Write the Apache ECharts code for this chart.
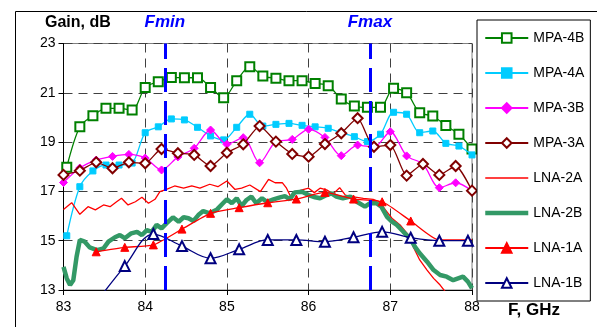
<!DOCTYPE html>
<html><head><meta charset="utf-8">
<script src="https://cdn.jsdelivr.net/npm/echarts@6/dist/echarts.min.js"></script>
<style>html,body{margin:0;padding:0;background:#fff}#c{width:597px;height:327px}</style>
</head><body><div id="c"></div>
<script>
// ---- data ----
const seriesNames = ['MPA-4B','MPA-4A','MPA-3B','MPA-3A','LNA-2A','LNA-2B','LNA-1A','LNA-1B'];
const xTicks = [83,84,85,86,87,88];
const yTicks = [13,15,17,19,21,23];
const markerFreqs = [84.24, 86.75];
const markerLabels = ['Fmin','Fmax'];

const freqMPA4 = [83.04,83.2,83.36,83.52,83.68,83.84,84.0,84.16,84.32,84.48,84.64,84.8,84.96,85.12,85.28,85.44,85.6,85.76,85.92,86.08,86.24,86.4,86.56,86.72,86.88,87.04,87.2,87.36,87.52,87.68,87.84,88.0];
const mpa4B = [17.98,19.62,20.07,20.37,20.37,20.30,21.22,21.45,21.62,21.61,21.61,21.22,20.80,21.49,22.06,21.68,21.59,21.49,21.49,21.38,21.29,20.75,20.46,20.41,20.41,21.18,21.0,20.19,20.06,19.67,19.32,18.72];
const mpa4A = [15.20,17.19,17.83,18.07,18.07,18.15,19.38,19.62,19.94,19.90,19.60,19.25,19.09,19.60,20.13,19.65,19.72,19.76,19.68,19.62,19.56,19.38,19.22,19.02,19.32,20.21,20.13,19.38,19.45,18.95,18.84,18.48];

const freqMPA3 = [83.0,83.2,83.4,83.6,83.8,84.0,84.2,84.4,84.6,84.8,85.0,85.2,85.4,85.6,85.8,86.0,86.2,86.4,86.6,86.8,87.0,87.2,87.4,87.6,87.8,88.0];
const mpa3B = [17.36,17.95,18.27,18.42,18.50,18.35,17.87,18.40,18.75,19.49,18.91,19.18,18.16,19.02,19.11,19.52,19.19,18.45,18.88,18.79,19.42,18.44,18.11,17.15,17.35,17.02];
const mpa3A = [17.67,17.84,18.18,17.94,18.18,18.14,18.72,18.55,18.48,18.03,18.57,18.91,19.65,19.02,18.52,18.41,18.92,19.36,19.97,18.81,18.88,17.64,18.11,17.67,18.03,17.03];

const freqLNA2A = [83.0,83.1,83.2,83.3,83.39,83.49,83.57,83.65,83.71,83.79,83.88,83.96,84.04,84.12,84.18,84.26,84.36,84.47,84.57,84.67,84.79,84.89,85.0,85.1,85.18,85.28,85.41,85.51,85.59,85.68,85.73,85.79,85.85,85.92,86.0,86.07,86.14,86.22,86.3,86.38,86.45,86.55,86.67,86.79,86.87,86.94,87.02,87.12,87.22,87.28,87.36,87.45,87.53,87.61,87.69];
const lna2A = [16.27,16.54,16.07,16.38,16.25,16.45,16.38,16.58,16.72,16.45,16.58,16.76,16.52,16.68,16.99,17.08,17.22,17.13,17.22,17.13,17.29,17.19,17.42,17.08,17.13,17.26,16.99,17.49,17.35,17.35,17.13,16.72,16.99,17.06,17.13,16.95,17.13,17.06,16.9,17.15,16.85,16.78,16.72,16.68,16.58,16.25,15.91,15.64,15.23,14.76,14.22,13.81,13.47,13.2,12.86];

const freqLNA2B = [83.0,83.04,83.08,83.12,83.16,83.2,83.26,83.32,83.41,83.49,83.55,83.63,83.69,83.75,83.83,83.9,83.96,84.02,84.08,84.14,84.2,84.26,84.34,84.41,84.47,84.53,84.59,84.65,84.71,84.79,84.88,84.94,85.0,85.06,85.12,85.18,85.24,85.3,85.36,85.43,85.49,85.57,85.65,85.71,85.77,85.83,85.92,86.0,86.08,86.14,86.22,86.28,86.34,86.42,86.51,86.59,86.69,86.75,86.83,86.89,86.96,87.02,87.08,87.16,87.24,87.3,87.36,87.45,87.53,87.61,87.69,87.77,87.83,87.89,87.95,88.0];
const lna2B = [13.94,13.47,13.2,13.4,14.35,15.03,14.96,14.73,14.62,14.69,14.96,15.14,15.23,15.10,15.30,15.36,15.23,15.43,15.36,15.64,15.50,15.70,15.95,15.77,15.95,15.91,15.80,16.04,16.2,16.11,16.27,16.48,16.68,16.52,16.72,16.41,16.65,16.79,16.52,16.72,16.58,16.68,16.76,16.81,16.68,16.96,16.99,16.85,16.76,16.72,16.85,16.92,16.79,16.72,16.79,16.58,16.38,16.52,16.52,16.38,15.97,15.77,15.64,15.36,15.10,14.76,14.49,14.15,13.81,13.61,13.54,13.40,13.47,13.54,13.34,13.07];

const freqLNA1 = [83.4,83.75,84.1,84.45,84.8,85.15,85.5,85.85,86.2,86.55,86.9,87.25,87.6,87.95,88.0];
const lna1A = [14.55,14.73,14.83,15.47,16.11,16.34,16.54,16.69,16.96,16.69,16.58,15.80,15.03,15.03,15.03];
const lna1B = [12.5,13.97,15.27,14.78,14.29,14.65,15.03,15.03,14.96,15.14,15.36,15.12,15.0,15.0,15.0];

// ---- chart ----
const FONT = 'Liberation Sans, Arial, sans-serif';
function pairs(xs, ys, noMarkLast) {
  return xs.map((x, i) => {
    if (noMarkLast && i === xs.length - 1) return {value: [x, ys[i]], symbol: 'none'};
    return [x, ys[i]];
  });
}
const styles = [
  {color:'#008000', symbol:'emptyRect', size:9, width:1.3, smooth:0.3, bw:1.5},
  {color:'#00CCFF', symbol:'rect', size:6, width:1.3, smooth:0.3},
  {color:'#FF00FF', symbol:'diamond', size:8, width:1.3, smooth:0.3},
  {color:'#800000', symbol:'emptyDiamond', size:10, width:1.3, smooth:0.2, bw:1.3},
  {color:'#FF0000', symbol:'none', size:0, width:1.3, smooth:false},
  {color:'#339966', symbol:'none', size:0, width:4.5, smooth:false},
  {color:'#FF0000', symbol:'triangle', size:8, width:1.3, smooth:0.2},
  {color:'#000080', symbol:'emptyTriangle', size:10, width:1.3, smooth:0.35, bw:1.5}
];
const datasets = [
  pairs(freqMPA4, mpa4B), pairs(freqMPA4, mpa4A),
  pairs(freqMPA3, mpa3B), pairs(freqMPA3, mpa3A),
  pairs(freqLNA2A, lna2A), pairs(freqLNA2B, lna2B),
  pairs(freqLNA1, lna1A, true), pairs(freqLNA1, lna1B, true)
];

const series = [{
  name: 'markers', type: 'line', data: [], silent: true,
  markLine: {
    silent: true, symbol: ['none','none'],
    lineStyle: {color:'#0000FF', width:3, type:[24,9]},
    label: {show:true, position:'end', distance:13, color:'#0000FF', fontFamily:FONT, fontSize:17, fontWeight:'bold', fontStyle:'italic',
      formatter: p => markerLabels[markerFreqs.indexOf(p.value)]},
    data: markerFreqs.map(f => ({xAxis: f}))
  }
}];
seriesNames.forEach((n, i) => {
  const s = styles[i];
  series.push({
    name: n, type: 'line', data: datasets[i], smooth: s.smooth,
    symbol: s.symbol, symbolSize: s.size, showSymbol: s.symbol !== 'none',
    lineStyle: {color: s.color, width: s.width},
    itemStyle: {color: s.color, borderColor: s.color, borderWidth: s.bw || 1},
    emphasis: {disabled: true}, animation: false, clip: true, z: 3 + i * 0.01
  });
});

const legendData = seriesNames.map((n, i) =>
  styles[i].symbol === 'none'
    ? {name: n, itemStyle: {opacity: 0}, lineStyle: {color: styles[i].color, width: styles[i].width}}
    : {name: n});

const chart = echarts.init(document.getElementById('c'), null, {renderer: 'canvas'});
chart.setOption({
  animation: false,
  backgroundColor: '#fff',
  grid: {left: 63.5, right: 125, top: 43.5, bottom: 37, show: true, borderColor: '#808080', borderWidth: 1},
  xAxis: {
    type: 'value', min: 83, max: 88, interval: 1,
    axisLine: {show: true, onZero: false, lineStyle: {color: '#000', width: 1}},
    axisTick: {show: true, length: 5, lineStyle: {color: '#000'}},
    axisLabel: {color: '#000', fontFamily: FONT, fontSize: 14, margin: 10,
      formatter: v => xTicks.includes(v) ? String(v) : ''},
    splitLine: {show: true, lineStyle: {color: '#404040', type: [9, 6], width: 1}}
  },
  yAxis: {
    type: 'value', min: 13, max: 23, interval: 2,
    axisLine: {show: true, onZero: false, lineStyle: {color: '#000', width: 1}},
    axisTick: {show: true, length: 5, lineStyle: {color: '#000'}},
    axisLabel: {color: '#000', fontFamily: FONT, fontSize: 14, margin: 8,
      formatter: v => yTicks.includes(v) ? String(v) : ''},
    splitLine: {show: true, lineStyle: {color: '#404040', type: [9, 6], width: 1}}
  },
  legend: {
    data: legendData, orient: 'vertical', left: 477, top: 20,
    itemWidth: 43, itemHeight: 12, itemGap: 21, padding: [11, 6, 11, 6],
    backgroundColor: '#fff', borderColor: '#000', borderWidth: 1, borderRadius: 0,
    textStyle: {color: '#000', fontFamily: FONT, fontSize: 14}
  },
  graphic: [
    {type: 'rect', left: 13, top: 9, silent: true, shape: {x: 0, y: 0, width: 583, height: 340},
     style: {fill: 'none', stroke: '#000', lineWidth: 1}, z: -10},
    {type: 'text', left: 45, top: 15, silent: true,
     style: {text: 'Gain, dB', font: 'bold 16px ' + FONT, fill: '#000'}},
    {type: 'text', left: 508, top: 302, silent: true,
     style: {text: 'F, GHz', font: 'bold 17px ' + FONT, fill: '#000'}}
  ],
  series: series
});
</script></body></html>
